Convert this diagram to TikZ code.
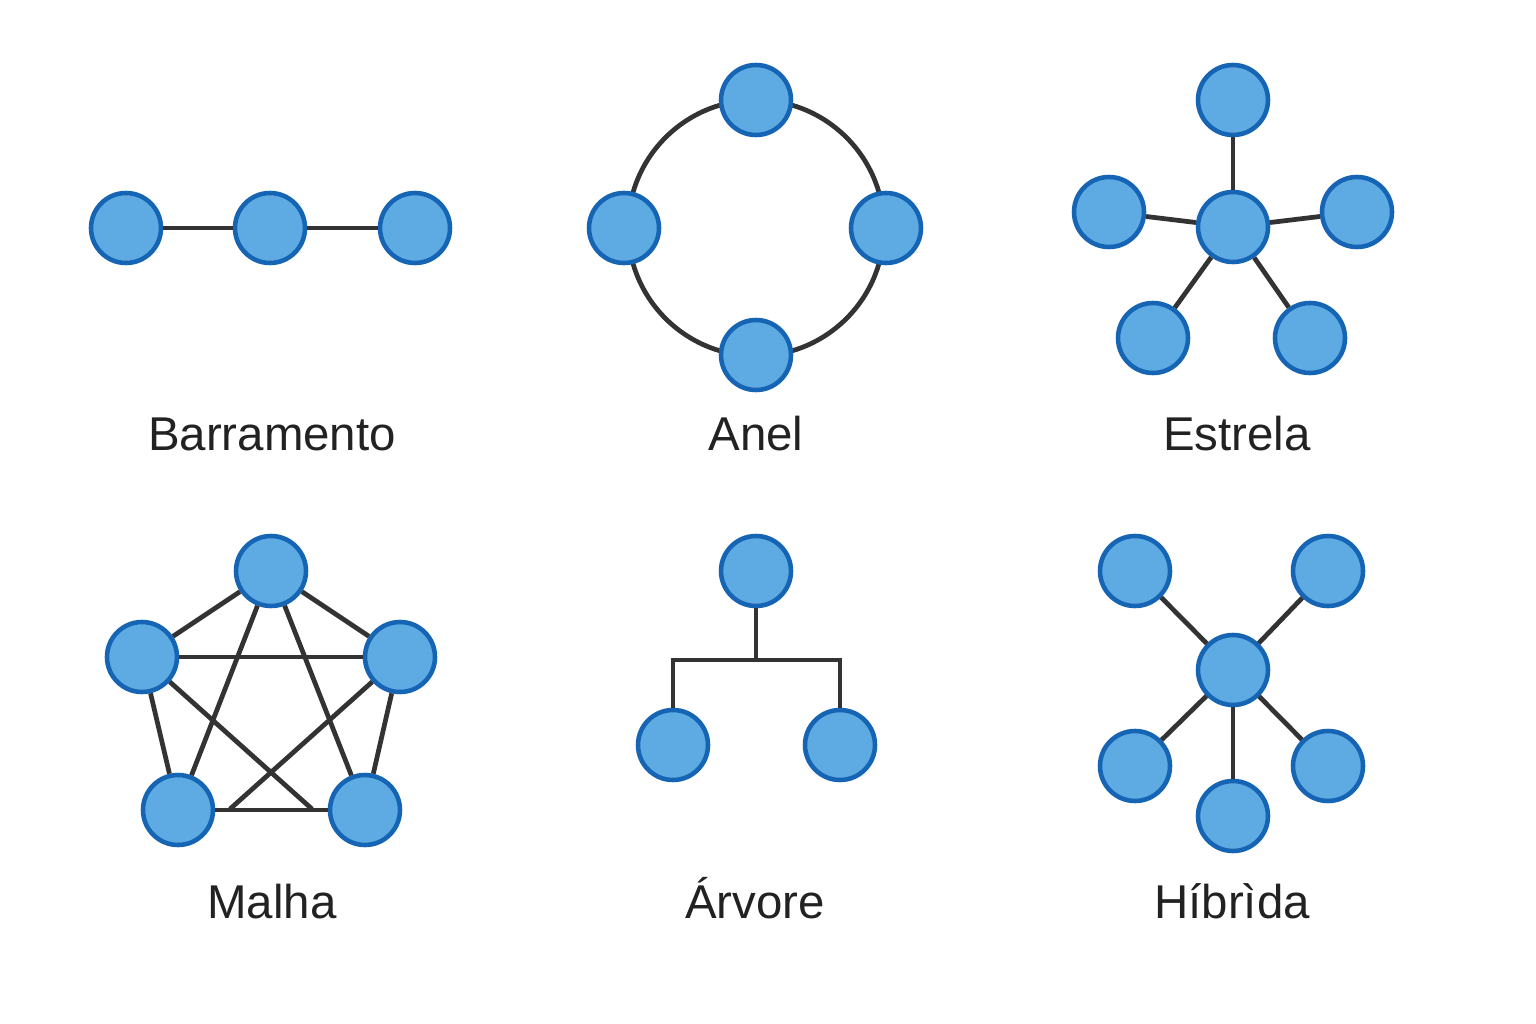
\documentclass[tikz,border=0pt]{standalone}
\usepackage{fontspec}
\setmainfont{Liberation Sans}
\usepackage{tikz}
\usetikzlibrary{positioning,calc}
\definecolor{NODEFILL}{RGB}{94,170,227}
\definecolor{NODEBORDER}{RGB}{22,101,180}
\definecolor{LINKGRAY}{RGB}{51,51,51}
\definecolor{TEXTGRAY}{RGB}{34,34,34}
\tikzstyle{NODE} = [circle, draw=NODEBORDER, fill=NODEFILL, line width=2.6pt, minimum size=1.4cm, inner sep=0pt]
\tikzstyle{LINK} = [draw=LINKGRAY, line width=2.7pt]
\tikzstyle{LABEL} = [anchor=base, text=TEXTGRAY, font=\fontsize{27}{32}\selectfont, inner sep=0pt]

\begin{document}
\begin{tikzpicture}[x=0.02cm, y=-0.02cm]
% Frame
\path [fill=white] (0,0) rectangle (1536,1024);
% Barramento
\node [NODE] (b1) at (126,228) {};
\node [NODE] (b2) at (270,228) {};
\node [NODE] (b3) at (415,228) {};
\path [LINK] (b1) -- (b2);
\path [LINK] (b2) -- (b3);
\node [LABEL] (l_bus) at (272,450) {Barramento};
% Anel
\coordinate (ringC) at (756,228);
\path [LINK] (ringC) circle [radius=2.56cm];
\node [NODE] (r_top) at (756,100) {};
\node [NODE] (r_left) at (624,228) {};
\node [NODE] (r_right) at (886,228) {};
\node [NODE] (r_bot) at (756,355) {};
\node [LABEL] (l_ring) at (756,450) {Anel};
% Estrela
\node [NODE] (s_c) at (1233,227) {};
\node [NODE] (s_1) at (1233,100) {};
\node [NODE] (s_2) at (1109,212) {};
\node [NODE] (s_3) at (1357,212) {};
\node [NODE] (s_4) at (1153,338) {};
\node [NODE] (s_5) at (1310,338) {};
\foreach \n in {1,...,5}
  \path [LINK] (s_c) -- (s_\n);
\node [LABEL] (l_star) at (1237,450) {Estrela};
% Malha
\node [NODE] (m_1) at (271,571) {};
\node [NODE] (m_2) at (142,657) {};
\node [NODE] (m_3) at (400,657) {};
\node [NODE] (m_4) at (178,810) {};
\node [NODE] (m_5) at (365,810) {};
\coordinate (m_a) at (312,809);
\coordinate (m_b) at (230,809);
\foreach \a/\b in {1/2,1/3,1/4,1/5,2/3,2/4,3/5}
  \path [LINK] (m_\a) -- (m_\b);
\path [LINK] (m_2) -- (m_a);
\path [LINK] (m_3) -- (m_b);
\path [LINK] (m_4) -- (m_5);
\node [LABEL] (l_mesh) at (272,918) {Malha};
% Arvore
\node [NODE] (t_top) at (756,571) {};
\node [NODE] (t_left) at (673,745) {};
\node [NODE] (t_right) at (840,745) {};
\coordinate (t_j) at (756,660);
\path [LINK] (t_top) -- (t_j);
\path [LINK] (t_left) |- (t_j) -| (t_right);
\node [LABEL] (l_tree) at (755,918) {Árvore};
% Hibrida
\node [NODE] (h_c) at (1233,670) {};
\node [NODE] (h_1) at (1135,571) {};
\node [NODE] (h_2) at (1328,571) {};
\node [NODE] (h_3) at (1135,766) {};
\node [NODE] (h_4) at (1328,766) {};
\node [NODE] (h_5) at (1233,816) {};
\foreach \n in {1,...,5}
  \path [LINK] (h_c) -- (h_\n);
\node [LABEL] (l_hyb) at (1232,918) {Híbrìda};
\end{tikzpicture}
\end{document}
